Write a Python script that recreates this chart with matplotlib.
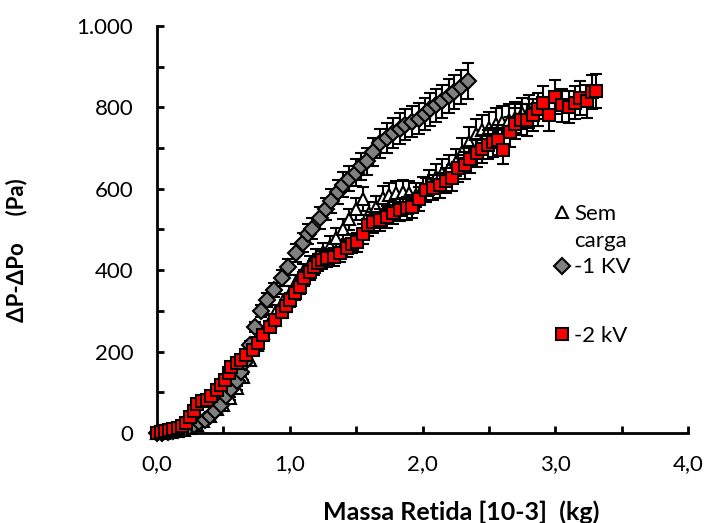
import matplotlib.pyplot as plt
from matplotlib.lines import Line2D
from matplotlib.ticker import MultipleLocator, FixedLocator, FixedFormatter

plt.rcParams["font.family"] = ["Lato", "DejaVu Sans"]

# Sem carga (triangles)
x_sem = [0.00, 0.05, 0.10, 0.15, 0.20, 0.25, 0.30, 0.35, 0.40, 0.45, 0.50, 0.55,
         0.60, 0.65, 0.70, 0.75, 0.80, 0.85, 0.90, 0.95, 1.00, 1.05, 1.10, 1.15,
         1.20, 1.25, 1.30, 1.35, 1.40, 1.45, 1.50, 1.55, 1.60, 1.65, 1.70, 1.75,
         1.80, 1.85, 1.90, 1.95, 2.00, 2.05, 2.10, 2.15, 2.20, 2.25, 2.30, 2.35,
         2.40, 2.45, 2.50, 2.55, 2.60, 2.65, 2.70, 2.75, 2.80]
y_sem = [0, 0, 3, 5, 8, 12, 20, 30, 42, 58, 70, 85,
         110, 138, 179, 215, 245, 275, 300, 325, 345, 370, 395, 415,
         430, 445, 460, 480, 500, 525, 550, 575, 540, 555, 578, 585,
         590, 592, 590, 585, 600, 615, 630, 640, 650, 665, 690, 715,
         735, 745, 750, 760, 765, 770, 775, 785, 790]

# -1 KV (diamonds)
x_1kv = [0.00, 0.04, 0.08, 0.12, 0.16, 0.20, 0.24, 0.28, 0.32, 0.36, 0.40, 0.44,
         0.48, 0.52, 0.56, 0.60, 0.63, 0.66, 0.70, 0.74, 0.78, 0.83, 0.88, 0.94,
         0.99, 1.05, 1.10, 1.14, 1.17, 1.23, 1.27, 1.31, 1.36, 1.40, 1.45, 1.50,
         1.54, 1.58, 1.63, 1.68, 1.73, 1.78, 1.83, 1.87, 1.92, 1.97, 2.02, 2.06,
         2.10, 2.15, 2.20, 2.24, 2.29, 2.34]
y_1kv = [0, 1, 3, 5, 8, 11, 15, 20, 26, 33, 42, 55,
         70, 90, 108, 128, 150, 174, 215, 260, 300, 327, 351, 381,
         408, 442, 467, 490, 502, 528, 550, 570, 593, 610, 625, 640,
         655, 668, 690, 712, 725, 737, 748, 757, 765, 772, 783, 795,
         805, 815, 828, 838, 850, 865]

# -2 kV (squares)
x_2kv = [0.00, 0.03, 0.06, 0.09, 0.12, 0.16, 0.19, 0.22, 0.25, 0.28, 0.30, 0.34,
         0.38, 0.41, 0.45, 0.48, 0.51, 0.54, 0.56, 0.60, 0.63, 0.67, 0.72, 0.76,
         0.80, 0.85, 0.89, 0.94, 0.97, 1.00, 1.04, 1.08, 1.11, 1.15, 1.18, 1.21,
         1.24, 1.28, 1.33, 1.38, 1.43, 1.47, 1.51, 1.55, 1.59, 1.63, 1.68, 1.73,
         1.78, 1.83, 1.88, 1.92, 1.97, 2.03, 2.08, 2.13, 2.18, 2.22, 2.27, 2.32,
         2.36, 2.41, 2.45, 2.49, 2.53, 2.57, 2.61, 2.66, 2.70, 2.74, 2.79, 2.83,
         2.87, 2.91, 2.95, 3.00, 3.05, 3.10, 3.15, 3.19, 3.24, 3.28, 3.31]
y_2kv = [0, 2, 5, 8, 10, 13, 16, 25, 39, 55, 72, 78,
         81, 92, 106, 118, 130, 148, 162, 172, 179, 192, 204, 222,
         241, 260, 278, 297, 312, 327, 343, 359, 381, 395, 408, 418,
         425, 430, 432, 443, 455, 465, 469, 490, 510, 518, 523, 530,
         540, 548, 552, 556, 575, 597, 603, 609, 620, 627, 650, 658,
         672, 688, 698, 708, 714, 720, 695, 740, 760, 770, 769, 781,
         795, 811, 781, 826, 805, 801, 812, 823, 815, 838, 840]

ERR_PCT = 0.05  # percentage error bars

x_ticks = [0, 1, 2, 3, 4]
x_tick_labels = ["0,0", "1,0", "2,0", "3,0", "4,0"]
y_ticks = [0, 200, 400, 600, 800, 1000]
y_tick_labels = ["0", "200", "400", "600", "800", "1.000"]

fig = plt.figure(figsize=(7.05, 5.23), dpi=100)
ax = fig.add_axes([0.2227, 0.1721, 0.7532, 0.7782])

series = [
    (x_sem, y_sem, "^", "white", 9),
    (x_1kv, y_1kv, "D", "#808080", 8.5),
    (x_2kv, y_2kv, "s", "#ff0000", 8.5),
]
for i, (xs, ys, mk, fc, ms) in enumerate(series):
    err = [v * ERR_PCT for v in ys]
    ax.errorbar(xs, ys, yerr=err, fmt=mk, mfc=fc, mec="black", mew=1.5, ms=ms,
                ecolor="black", elinewidth=1.5, capsize=4, capthick=1.5,
                zorder=3 + i, clip_on=False)

ax.set_xlim(0, 4)
ax.set_ylim(0, 1000)
ax.xaxis.set_major_locator(FixedLocator(x_ticks))
ax.xaxis.set_major_formatter(FixedFormatter(x_tick_labels))
ax.xaxis.set_minor_locator(MultipleLocator(0.5))
ax.yaxis.set_major_locator(FixedLocator(y_ticks))
ax.yaxis.set_major_formatter(FixedFormatter(y_tick_labels))
ax.yaxis.set_minor_locator(MultipleLocator(100))

for side in ["top", "right"]:
    ax.spines[side].set_visible(False)
for side in ["left", "bottom"]:
    ax.spines[side].set_linewidth(2)
ax.tick_params(which="both", direction="in", length=5, width=2, color="black")
ax.tick_params(axis="x", which="major", pad=15, labelsize=16)
ax.tick_params(axis="y", which="major", pad=17, labelsize=16)

ax.set_xlabel("Massa Retida [10-3]  (kg)", fontsize=18, fontweight="bold")
ax.xaxis.set_label_coords(0.5725, -0.165)
ax.set_ylabel("ΔP-ΔPo     (Pa)", fontsize=16, fontweight="bold")
ax.yaxis.set_label_coords(-0.245, 0.45)

# legend: Excel wraps "Sem carga" onto two lines
h_sem = Line2D([], [], ls="none", marker="^", mfc="white", mec="black", mew=1.5, ms=9)
h_blank = Line2D([], [], ls="none", marker="none")
h_1kv = Line2D([], [], ls="none", marker="D", mfc="#808080", mec="black", mew=1.5, ms=8.5)
h_2kv = Line2D([], [], ls="none", marker="s", mfc="#ff0000", mec="black", mew=1.5, ms=8.5)
leg1 = ax.legend([h_sem, h_blank, h_1kv], ["Sem", "carga", "-1 KV"], loc="upper left",
                 bbox_to_anchor=(0.725, 0.59), frameon=False, fontsize=16,
                 handlelength=0.8, handletextpad=0.15, labelspacing=0.3,
                 borderpad=0)
ax.add_artist(leg1)
ax.legend([h_2kv], ["-2 kV"], loc="upper left", bbox_to_anchor=(0.725, 0.29),
          frameon=False, fontsize=16, handlelength=0.8, handletextpad=0.15,
          borderpad=0)

fig.savefig("out.png", dpi=100)
